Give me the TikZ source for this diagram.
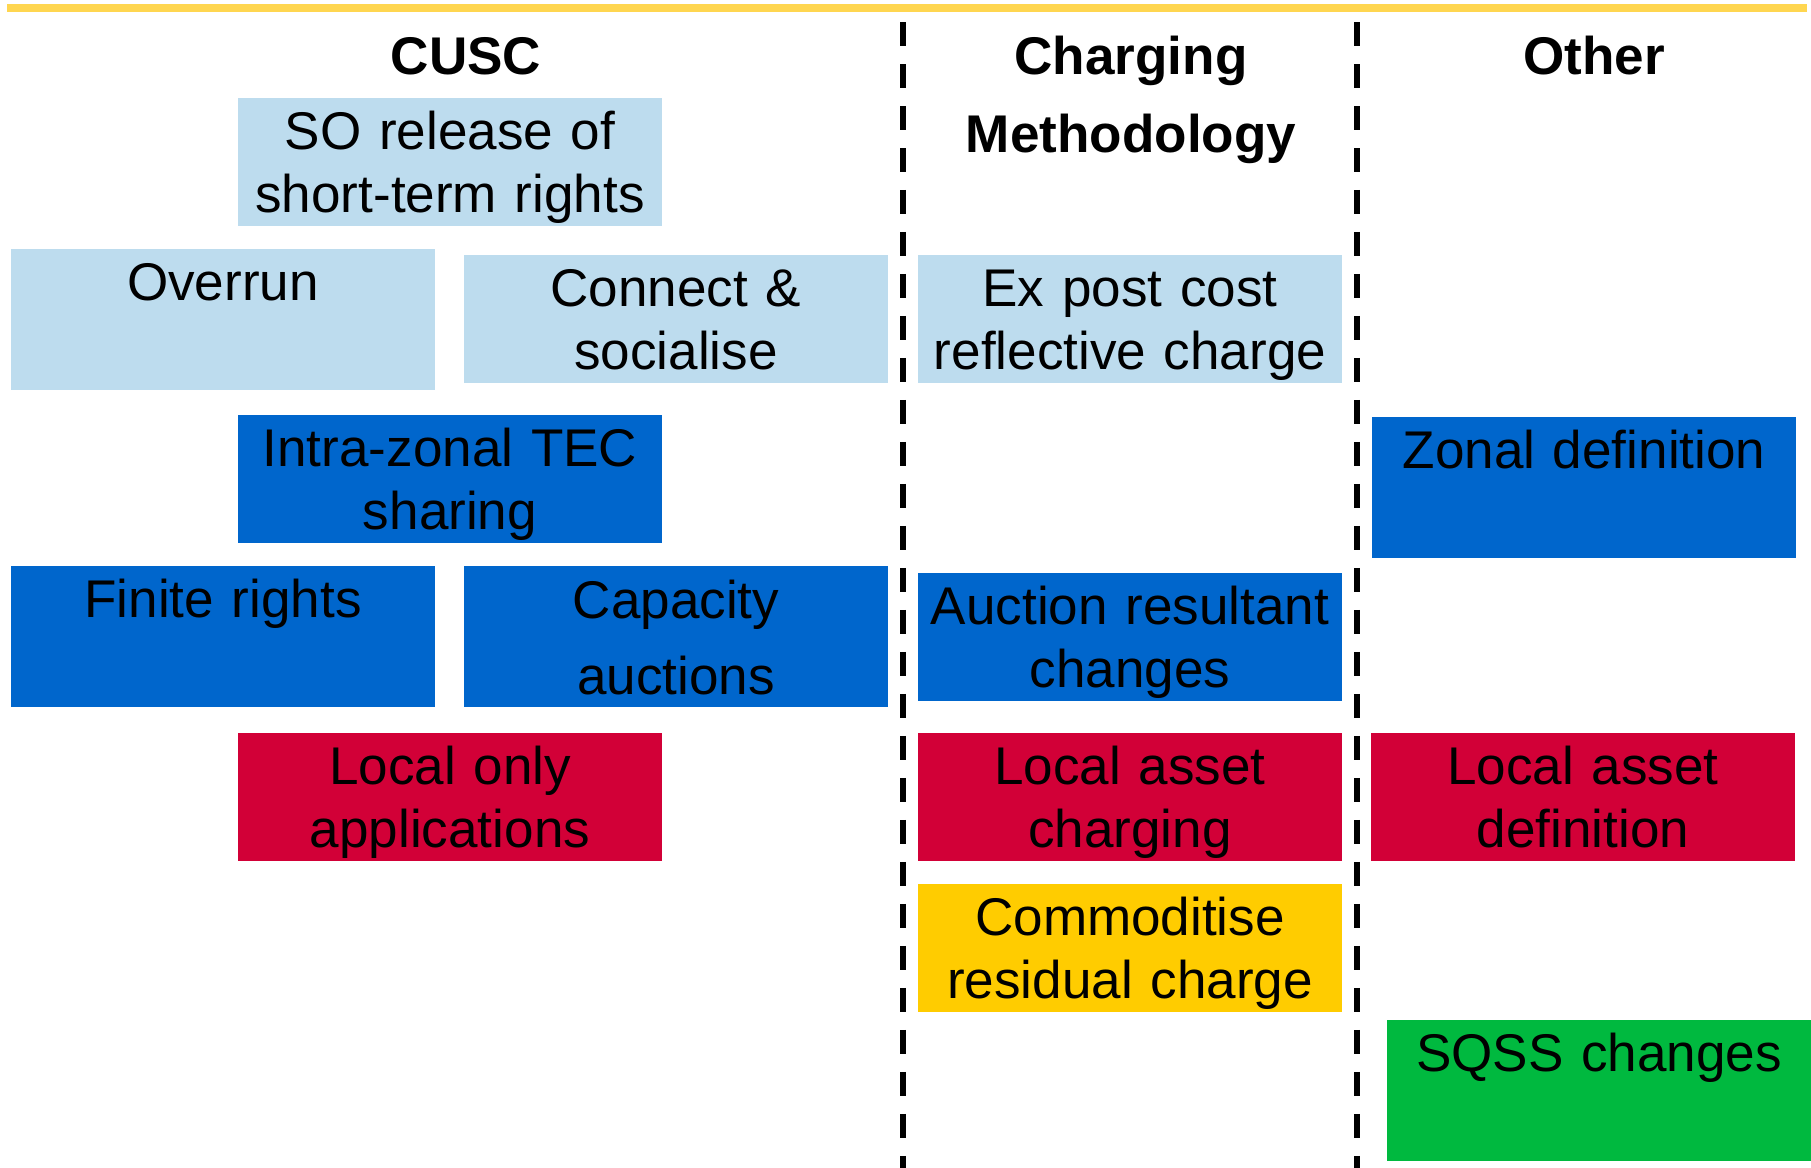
\documentclass[tikz,border=0pt]{standalone}
\usepackage{fontspec}
\setmainfont{Liberation Sans}
\usepackage{xcolor}
\usepackage{tikz}
\definecolor{paleblue}{RGB}{189,220,238}
\definecolor{deepblue}{RGB}{0,102,204}
\definecolor{crimson}{RGB}{210,0,55}
\definecolor{amber}{RGB}{255,204,0}
\definecolor{leafgreen}{RGB}{0,185,63}
\definecolor{rulegold}{RGB}{255,214,80}

\begin{document}
\begin{tikzpicture}[x=0.1mm,y=-0.1mm,
  tile/.style={anchor=north west,inner sep=0pt,outer sep=0pt,text width=42.4mm,align=center,
    font=\fontsize{15.1}{18.2}\selectfont,text height=5.1mm,text depth=7.7mm},
  tall/.style={text depth=9mm},
  head/.style={anchor=base,inner sep=0pt,text width=60mm,align=center,
    font=\fontsize{15.1}{22.2}\selectfont\bfseries},
  divider/.style={line width=0.6mm,dash pattern=on 2.4mm off 1.8mm}]
\useasboundingbox (0,0) rectangle (1811,1168);
\draw[rulegold,line width=0.85mm] (7,8) -- (1807,8);
% column dividers
\coordinate (cutA) at (903,22);
\coordinate (cutB) at (1357,22);
\draw[divider] (cutA) -- (903,1168);
\draw[divider] (cutB) -- (1357,1168);
% headings
\node[head] (cusc) at (466,74) {CUSC};
\node[head] (charging) at (1131,74) {Charging\\Methodology};
\node[head] (other) at (1594,74) {Other};
% CUSC column
\node[tile,fill=paleblue] (soRelease) at (238,98) {SO release of\\short-term rights};
\node[tile,tall,fill=paleblue] (overrun) at (11,249) {Overrun};
\node[tile,fill=paleblue] (connect) at (464,255) {Connect \&\\socialise};
\node[tile,fill=deepblue] (intraTec) at (238,415) {Intra-zonal TEC\\sharing};
\node[tile,tall,fill=deepblue] (finite) at (11,566) {Finite rights};
\node[tile,fill=deepblue,font=\fontsize{15.1}{21.9}\selectfont,text height=5.2mm,text depth=8.9mm] (capacity) at (464,566) {Capacity\\auctions};
\node[tile,fill=crimson] (localOnly) at (238,733) {Local only\\applications};
% charging methodology column
\node[tile,fill=paleblue] (exPost) at (918,255) {Ex post cost\\reflective charge};
\node[tile,fill=deepblue] (auctionRes) at (918,573) {Auction resultant\\changes};
\node[tile,fill=crimson] (assetCharging) at (918,733) {Local asset\\charging};
\node[tile,fill=amber] (residual) at (918,884) {Commoditise\\residual charge};
% other column
\node[tile,tall,fill=deepblue] (zonalDef) at (1372,417) {Zonal definition};
\node[tile,fill=crimson] (assetDef) at (1371,733) {Local asset\\definition};
\node[tile,tall,fill=leafgreen] (sqss) at (1387,1020) {SQSS changes};
\end{tikzpicture}
\end{document}
